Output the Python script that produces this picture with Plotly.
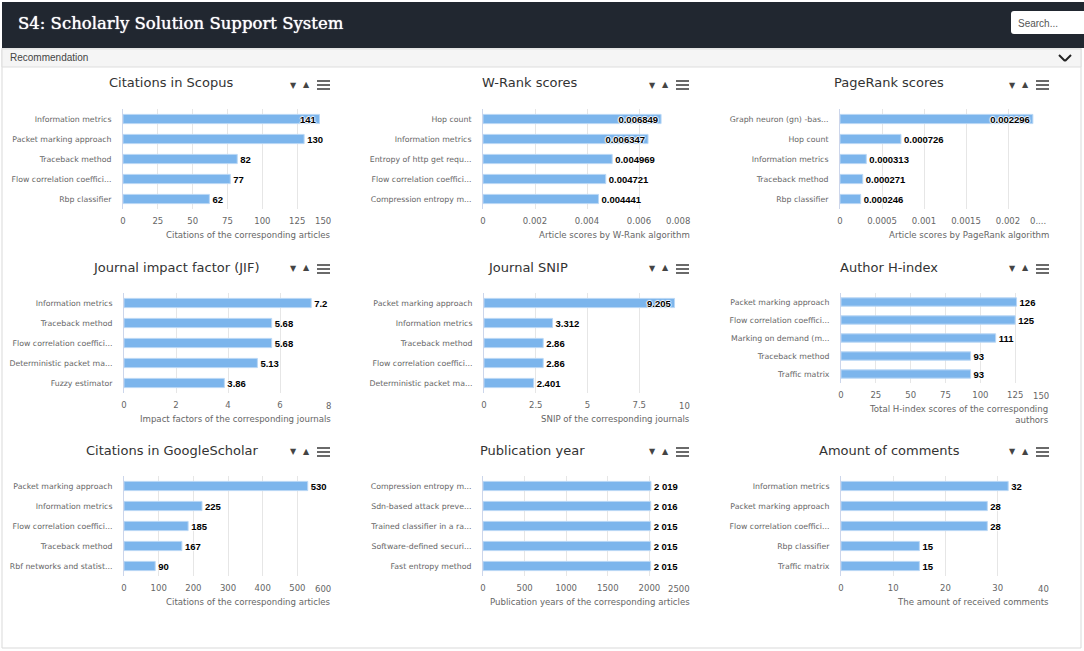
import plotly.graph_objects as go

W, H = 1084, 651

# chart data
scopus_names = ["Information metrics", "Packet marking approach", "Traceback method", "Flow correlation coeffici...", "Rbp classifier"]
scopus_vals = [141, 130, 82, 77, 62]
wrank_names = ["Hop count", "Information metrics", "Entropy of http get requ...", "Flow correlation coeffici...", "Compression entropy m..."]
wrank_vals = [0.006849, 0.006347, 0.004969, 0.004721, 0.004441]
pagerank_names = ["Graph neuron (gn) -bas...", "Hop count", "Information metrics", "Traceback method", "Rbp classifier"]
pagerank_vals = [0.002296, 0.000726, 0.000313, 0.000271, 0.000246]
jif_names = ["Information metrics", "Traceback method", "Flow correlation coeffici...", "Deterministic packet ma...", "Fuzzy estimator"]
jif_vals = [7.2, 5.68, 5.68, 5.13, 3.86]
snip_names = ["Packet marking approach", "Information metrics", "Traceback method", "Flow correlation coeffici...", "Deterministic packet ma..."]
snip_vals = [9.205, 3.312, 2.86, 2.86, 2.401]
hindex_names = ["Packet marking approach", "Flow correlation coeffici...", "Marking on demand (m...", "Traceback method", "Traffic matrix"]
hindex_vals = [126, 125, 111, 93, 93]
scholar_names = ["Packet marking approach", "Information metrics", "Flow correlation coeffici...", "Traceback method", "Rbf networks and statist..."]
scholar_vals = [530, 225, 185, 167, 90]
year_names = ["Compression entropy m...", "Sdn-based attack preve...", "Trained classifier in a ra...", "Software-defined securi...", "Fast entropy method"]
year_vals = [2019, 2016, 2015, 2015, 2015]
year_labels = ["2 019", "2 016", "2 015", "2 015", "2 015"]
comment_names = ["Information metrics", "Packet marking approach", "Flow correlation coeffici...", "Rbp classifier", "Traffic matrix"]
comment_vals = [32, 28, 28, 15, 15]

# title, names, values, labels, ticks, tick labels, axis title, x0, x1, y0, y1, title centre, title y, labels inside bar
panels = [
    ("Citations in Scopus", scopus_names, scopus_vals, None, [0, 25, 50, 75, 100, 125, 150], None,
     "Citations of the corresponding articles", 123, 332, 109, 209, 171, 83, [0]),
    ("W-Rank scores", wrank_names, wrank_vals, None, [0, 0.002, 0.004, 0.006, 0.008], None,
     "Article scores by W-Rank algorithm", 483, 691, 109, 209, 530, 83, [0, 1]),
    ("PageRank scores", pagerank_names, pagerank_vals, None, [0, 0.0005, 0.001, 0.0015, 0.002, 0.0025],
     ["0", "0.0005", "0.001", "0.0015", "0.002", "0...."],
     "Article scores by PageRank algorithm", 840, 1050, 109, 209, 889, 83, [0]),
    ("Journal impact factor (JIF)", jif_names, jif_vals, None, [0, 2, 4, 6, 8], None,
     "Impact factors of the corresponding journals", 124, 332, 293, 393, 176, 267, []),
    ("Journal SNIP", snip_names, snip_vals, None, [0, 2.5, 5, 7.5, 10], None,
     "SNIP of the corresponding journals", 484, 691, 293, 393, 528, 267, [0]),
    ("Author H-index", hindex_names, hindex_vals, None, [0, 25, 50, 75, 100, 125, 150], None,
     "Total H-index scores of the corresponding<br>authors", 841, 1050, 293, 383, 889, 267, []),
    ("Citations in GoogleScholar", scholar_names, scholar_vals, None, [0, 100, 200, 300, 400, 500, 600], None,
     "Citations of the corresponding articles", 124, 332, 476, 576, 172, 450, []),
    ("Publication year", year_names, year_vals, year_labels, [0, 500, 1000, 1500, 2000, 2500], None,
     "Publication years of the corresponding articles", 483, 691, 476, 576, 532, 450, []),
    ("Amount of comments", comment_names, comment_vals, None, [0, 10, 20, 30, 40], None,
     "The amount of received comments", 841, 1050, 476, 576, 889, 450, []),
]

BODY_FONT = "DejaVu Sans"
HALO = "1px 0 1px #fff, -1px 0 1px #fff, 0 1px 1px #fff, 0 -1px 1px #fff"
VALUE_FONT = dict(family="Liberation Sans", size=9.5, color="#000000", weight="bold", shadow=HALO)


def px(x):
    return x / W


def py(y):
    return 1 - y / H


fig = go.Figure()
annotations = []
shapes = []


def rect(x0, y0, x1, y1, fill, line=None):
    shapes.append(dict(type="rect", xref="paper", yref="paper", x0=px(x0), x1=px(x1), y0=py(y0), y1=py(y1),
                       fillcolor=fill, line=dict(color=line or fill, width=1 if line else 0), layer="below"))


def line(x0, y0, x1, y1, color, width):
    shapes.append(dict(type="line", xref="paper", yref="paper", x0=px(x0), x1=px(x1), y0=py(y0), y1=py(y1),
                       line=dict(color=color, width=width)))


def label(x, y, text, size, color="#666666", anchor="center", font=BODY_FONT, shadow="none"):
    annotations.append(dict(xref="paper", yref="paper", x=px(x), y=py(y), text=text, showarrow=False,
                            xanchor=anchor, yanchor="middle", align=anchor,
                            font=dict(family=font, size=size, color=color, shadow=shadow), borderpad=0))


# page chrome
rect(2, 48, 1081, 648, "#ffffff", "#d9d9d9")
rect(2, 2, 1084, 48, "#212730")
rect(2, 49, 1081, 67, "#f5f5f5", "#dddddd")
shapes.append(dict(type="path", xref="paper", yref="paper", layer="below",
                   path=f"M {px(1014)} {py(11)} L {px(1084)} {py(11)} L {px(1084)} {py(34)} L {px(1014)} {py(34)} "
                        f"Q {px(1011)} {py(34)} {px(1011)} {py(31)} L {px(1011)} {py(14)} Q {px(1011)} {py(11)} {px(1014)} {py(11)} Z",
                   fillcolor="#ffffff", line=dict(width=0)))
label(17, 23, "S4: Scholarly Solution Support System", 16.5, "#ffffff", "left", "DejaVu Serif", "0 0 1px #fff")
label(1017, 23, "Search...", 10, "#555555", "left", "Liberation Sans")
label(9, 58, "Recommendation", 10, "#444444", "left", "Liberation Sans")
line(1059, 55, 1065, 61, "#222222", 2)
line(1065, 61, 1071, 55, "#222222", 2)

for i, (title, names, vals, texts, ticks, ticklabels, xtitle, x0, x1, y0, y1, tx, ty, inside) in enumerate(panels, 1):
    suffix = "" if i == 1 else str(i)
    positions = ["inside" if k in inside else "outside" for k in range(len(vals))]
    tick_text = list(ticklabels) if ticklabels else [f"{t:g}" for t in ticks]
    # the last tick label sits flush with the plot's right edge, not centred on its tick
    last_tick = tick_text[-1]
    tick_text[-1] = " "
    fig.add_trace(go.Bar(
        x=vals, y=names, orientation="h", xaxis=f"x{suffix}", yaxis=f"y{suffix}",
        marker=dict(color="#7cb5ec", line=dict(color="#b9d7f5", width=1)),
        width=0.46, text=texts if texts else [str(v) for v in vals],
        textposition=positions, insidetextanchor="end", textangle=0, constraintext="none", cliponaxis=False,
        textfont=VALUE_FONT, insidetextfont=VALUE_FONT, outsidetextfont=VALUE_FONT,
        hoverinfo="x+y", showlegend=False,
    ))
    fig.update_layout({
        f"xaxis{suffix}": dict(
            domain=[px(x0), px(x1)], anchor=f"y{suffix}", range=[ticks[0], ticks[-1]], tickvals=ticks,
            ticktext=tick_text, showgrid=True, gridcolor="#e6e6e6",
            gridwidth=1, zeroline=False, showline=False, ticks="", ticklabelstandoff=5, automargin=False,
            tickfont=dict(family=BODY_FONT, size=8.5, color="#666666"),
        ),
        f"yaxis{suffix}": dict(
            domain=[py(y1), py(y0)], anchor=f"x{suffix}", range=[4.5, -0.5], type="category",
            showgrid=False, zeroline=False, showline=True, linecolor="#ccd6eb", linewidth=1, ticks="",
            ticklabelstandoff=9, automargin=False, tickfont=dict(family=BODY_FONT, size=7.8, color="#666666"),
        ),
    })
    label(tx, ty, title, 13, "#333333")
    label(x1 if last_tick != "0...." else x1 - 3, y1 + 12.5, last_tick, 8.5, "#666666", "right")
    annotations.append(dict(xref="paper", yref="paper", x=px(x1), y=py(y1 + 20), text=xtitle, showarrow=False,
                            xanchor="right", yanchor="top", align="right",
                            font=dict(family=BODY_FONT, size=8.6, color="#666666"), borderpad=0))
    # export buttons next to the title
    bx = x1 - 39 if x1 < 700 else x1 - 38
    by = ty + 2
    label(bx, by, "▼", 8, "#444444")
    label(bx + 13, by - 1, "▲", 8, "#444444")
    for dy in (-4, 0, 4):
        line(bx + 24, by + dy, bx + 37, by + dy, "#444444", 1.6)

fig.update_layout(
    width=W, height=H, autosize=False, margin=dict(l=0, r=0, t=0, b=0),
    paper_bgcolor="#ffffff", plot_bgcolor="rgba(0,0,0,0)", annotations=annotations, shapes=shapes,
    bargap=0.5, font=dict(family=BODY_FONT),
)
fig.write_html("out.html", config=dict(displayModeBar=False),
               post_script="document.body.style.margin='0';document.body.style.overflow='hidden';")
